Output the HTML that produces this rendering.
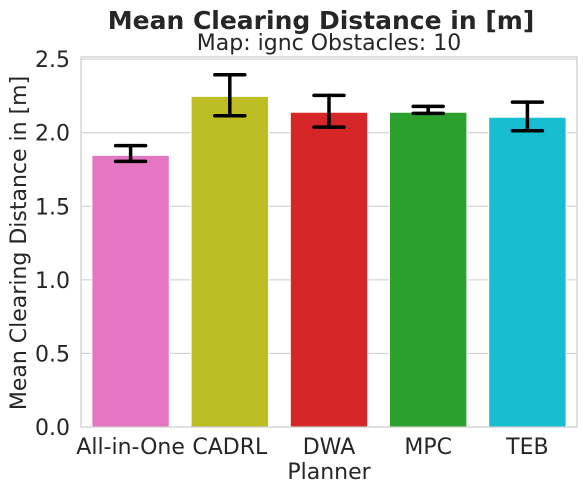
<!DOCTYPE html>
<html><head><meta charset="utf-8"><style>
body{margin:0;background:#fff;}
svg{display:block;font-family:"DejaVu Sans","Liberation Sans",sans-serif;}
</style></head><body>
<svg id="chart" width="586" height="492">
<text x="321" y="29" text-anchor="middle" font-size="25" font-weight="bold" fill="#262626">Mean Clearing Distance in [m]</text>
<text x="329" y="50" text-anchor="middle" font-size="22" fill="#262626">Map: ignc Obstacles: 10</text>
<g id="grid"></g>
<g id="bars"></g>
<g id="errs"></g>
<rect x="81" y="57" width="496" height="370" fill="none" stroke="#cccccc" stroke-width="1.2"/>
<g id="yt"></g>
<g id="xt"></g>
<text x="329" y="479" text-anchor="middle" font-size="22" fill="#262626">Planner</text>
<text transform="translate(26,243) rotate(-90)" text-anchor="middle" font-size="22" fill="#262626">Mean Clearing Distance in [m]</text>
</svg>
<script>
const categories=["All-in-One","CADRL","DWA","MPC","TEB"];
const values=[1.846,2.247,2.139,2.139,2.105];
const errLow=[1.805,2.115,2.038,2.131,2.013];
const errHigh=[1.912,2.394,2.254,2.179,2.208];
const colors=["#e377c2","#bcbd22","#d62728","#2ca02c","#17becf"];
const yTicks=[0,0.5,1.0,1.5,2.0,2.5];
const yTickLabels=["0.0","0.5","1.0","1.5","2.0","2.5"];
const NS="http://www.w3.org/2000/svg";
const L=81,R=577,B=427,PX=147.15;
const y=v=>B-v*PX;
const band=(R-L)/categories.length;
const xc=i=>L+band*(i+0.5);
function mk(t,a,p){const e=document.createElementNS(NS,t);for(const k in a)e.setAttribute(k,a[k]);p.appendChild(e);return e;}
const g=document.getElementById('grid'),yt=document.getElementById('yt');
yTicks.forEach((v,i)=>{
 const l=mk('line',{x1:L,x2:R,y1:y(v),y2:y(v),stroke:'#cccccc','stroke-width':1},g);
 
 
 const t=mk('text',{x:L-11,y:y(v)+8,'text-anchor':'end','font-size':22,fill:'#262626'},yt);
 t.textContent=yTickLabels[i];
 
 
});
const bg=document.getElementById('bars'),eg=document.getElementById('errs'),xt=document.getElementById('xt');
const bw=band*0.78;
categories.forEach((c,i)=>{
 const r=mk('rect',{x:xc(i)-bw/2,y:y(values[i]),width:bw,height:B-y(values[i]),fill:colors[i],stroke:'#ffffff','stroke-width':1},bg);
 
 
 const eb=mk('g',{stroke:'#000',"stroke-width":3.5,'stroke-linecap':'round'},eg);
 
 
 mk('line',{x1:xc(i),x2:xc(i),y1:y(errLow[i]),y2:y(errHigh[i])},eb);
 mk('line',{x1:xc(i)-15,x2:xc(i)+15,y1:y(errLow[i]),y2:y(errLow[i])},eb);
 mk('line',{x1:xc(i)-15,x2:xc(i)+15,y1:y(errHigh[i]),y2:y(errHigh[i])},eb);
 const t=mk('text',{x:xc(i),y:454,'text-anchor':'middle','font-size':22,fill:'#262626'},xt);
 t.textContent=c;
 
 
});
</script>
</body></html>
